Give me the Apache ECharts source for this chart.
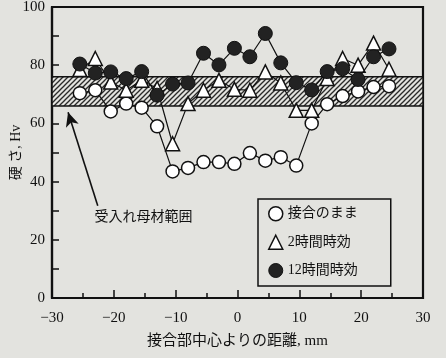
<!DOCTYPE html>
<html><head><meta charset="utf-8">
<script src="https://cdn.jsdelivr.net/npm/echarts@6/dist/echarts.min.js"></script>
<style>html,body{margin:0;padding:0;background:#e3e3df;}#c{width:446px;height:358px;}</style>
</head><body><div id="c"></div>
<script>
// ---- data ----
const positions = [-25.5, -23, -20.5, -18, -15.5, -13, -10.5, -8, -5.5, -3, -0.5, 2, 4.5, 7, 9.5, 12, 14.5, 17, 19.5, 22, 24.5];
const asWelded  = [70.4, 71.4, 64.1, 66.8, 65.4, 59, 43.5, 44.7, 46.7, 46.7, 46.1, 49.8, 47.2, 48.4, 45.5, 60, 66.6, 69.4, 71, 72.5, 72.8];
const aged2h    = [78.5, 82.3, 74.2, 71.4, 74.8, 72, 53, 66.8, 71.4, 74.8, 71.7, 71.4, 77.7, 73.9, 64.5, 64.5, 75.4, 82.3, 80, 87.6, 78.6];
const aged12h   = [80.4, 77.3, 77.7, 75.4, 77.8, 69.7, 73.5, 73.9, 84.1, 80.1, 85.8, 82.9, 90.9, 80.8, 74, 71.5, 77.8, 78.8, 75.1, 82.9, 85.6];
const seriesNames = ['接合のまま', '2時間時効', '12時間時効'];
const bandRange = [66, 76];                 // 受入れ母材範囲 (Hv)
const bandLabel = '受入れ母材範囲';
const arrowFrom = [-22.6, 31.7];
const arrowTo = [-27.4, 63.8];
const labelAt = [-15.2, 27.6];
const xTicks = [-30, 30, 10];
const yTicks = [0, 100, 20];

const BG = '#e3e3df';
const FONT = "'Liberation Serif', 'Noto Sans CJK JP', serif";

function pair(vals){ return positions.map((x,i)=>[x, vals[i]]); }

// hatch pattern
const S = 5;
const pc = document.createElement('canvas');
pc.width = S; pc.height = S;
const g = pc.getContext('2d');
g.fillStyle = BG; g.fillRect(0,0,S,S);
g.strokeStyle = '#2a2a2a'; g.lineWidth = 1.3;
[[-1,S+1,S+1,-1],[-1,1,1,-1],[S-1,S+1,S+1,S-1]].forEach(p=>{g.beginPath(); g.moveTo(p[0],p[1]); g.lineTo(p[2],p[3]); g.stroke();});

const chart = echarts.init(document.getElementById('c'), null, {renderer:'canvas'});
const lineStyle = {color:'#111', width:1.2};
chart.setOption({
  animation:false,
  backgroundColor: BG,
  textStyle:{fontFamily:FONT, color:'#111'},
  grid:{left:52, right:23, top:7, bottom:60, containLabel:false, outerBoundsMode:'none',
        show:true, borderColor:'#111', borderWidth:2.2, backgroundColor:BG},
  legend:{
    data:[
      {name:seriesNames[0], icon:'circle', itemStyle:{color:'#fff', borderColor:'#111', borderWidth:1.5}},
      {name:seriesNames[1], icon:'triangle', itemStyle:{color:'#fff', borderColor:'#111', borderWidth:1.5}},
      {name:seriesNames[2], icon:'circle', itemStyle:{color:'#222', borderColor:'#111', borderWidth:1}}
    ],
    orient:'vertical', left:258, top:199,
    padding:[7,33,8,10], itemGap:13, itemWidth:14, itemHeight:14, itemTextGap:5,
    borderColor:'#111', borderWidth:1.5, backgroundColor:BG,
    textStyle:{fontFamily:FONT, fontSize:14, color:'#111'}
  },
  xAxis:{
    type:'value', min:xTicks[0], max:xTicks[1], interval:xTicks[2],
    name:'接合部中心よりの距離, mm', nameLocation:'middle', nameGap:36, nameMoveOverlap:false,
    nameTextStyle:{fontSize:15, fontFamily:FONT, color:'#111'},
    axisLine:{onZero:false, lineStyle:{color:'#111', width:2.2}},
    axisTick:{inside:true, length:8, lineStyle:{color:'#111', width:1.5}},
    minorTick:{show:true, splitNumber:2, length:5, lineStyle:{color:'#111', width:1.5}},
    splitLine:{show:false},
    axisLabel:{fontSize:15, margin:13, color:'#111', fontFamily:FONT, formatter:v=>String(v).replace('-', '\u2212')}
  },
  yAxis:{
    type:'value', min:yTicks[0], max:yTicks[1], interval:yTicks[2],
    name:'硬 さ, Hv', nameLocation:'middle', nameGap:29, nameRotate:90, nameMoveOverlap:false,
    nameTextStyle:{fontSize:14, fontFamily:FONT, color:'#111'},
    axisLine:{onZero:false, lineStyle:{color:'#111', width:2.2}},
    axisTick:{inside:true, length:7, lineStyle:{color:'#111', width:1.5}},
    minorTick:{show:true, splitNumber:2, length:7, lineStyle:{color:'#111', width:1.5}},
    splitLine:{show:false},
    axisLabel:{fontSize:15, margin:7, color:'#111', fontFamily:FONT}
  },
  series:[
    {
      name:'band', type:'line', data:[], z:1,
      markArea:{silent:true, itemStyle:{color:{image:pc, repeat:'repeat'}, borderColor:'#111', borderWidth:1.5},
        data:[[{yAxis:bandRange[0], xAxis:xTicks[0]}, {yAxis:bandRange[1], xAxis:xTicks[1]}]]},
      markLine:{silent:true, symbol:['none','arrow'], symbolSize:[10,14], lineStyle:{color:'#111', width:1.6, type:'solid'},
        label:{show:false},
        data:[[{coord:arrowFrom}, {coord:arrowTo}]]},
      markPoint:{silent:true, symbol:'circle', symbolSize:0,
        label:{show:true, position:'inside', formatter:bandLabel, fontSize:14, fontFamily:FONT, color:'#111'},
        data:[{coord:labelAt}]}
    },
    {name:seriesNames[0], type:'line', z:3, data:pair(asWelded), symbol:'circle', symbolSize:13,
      itemStyle:{color:'#fff', borderColor:'#111', borderWidth:1.5}, lineStyle:lineStyle},
    {name:seriesNames[1], type:'line', z:4, data:pair(aged2h), symbol:'triangle', symbolSize:14,
      itemStyle:{color:'#fff', borderColor:'#111', borderWidth:1.5}, lineStyle:lineStyle},
    {name:seriesNames[2], type:'line', z:5, data:pair(aged12h), symbol:'circle', symbolSize:14,
      itemStyle:{color:'#222', borderColor:'#111', borderWidth:1}, lineStyle:lineStyle}
  ]
});
</script></body></html>
